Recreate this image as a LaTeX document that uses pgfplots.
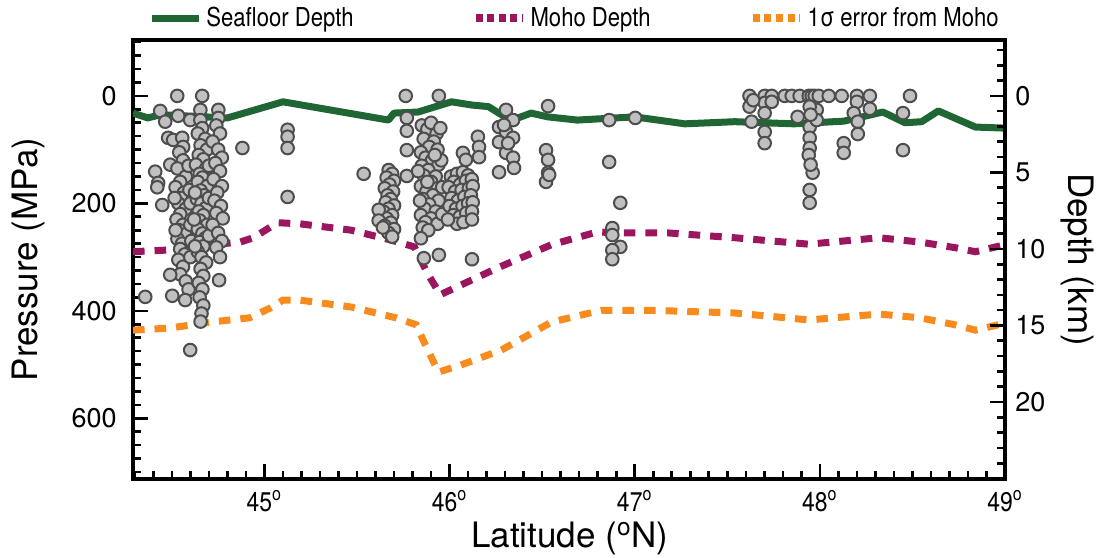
\documentclass[border=0pt]{standalone}
\usepackage{fontspec}
\setmainfont{TeX Gyre Heros}
\newfontfamily\narrow[FakeStretch=0.85]{TeX Gyre Heros}
\usepackage{pgfplots}
\pgfplotsset{compat=1.18}
\definecolor{seagreen}{HTML}{1F6634}
\definecolor{moho}{HTML}{9B165F}
\definecolor{sig}{HTML}{F78B1E}
\definecolor{ptfill}{HTML}{C0C0C0}
\definecolor{ptdraw}{HTML}{4D4D4D}
\pgfplotsset{
  common/.style={
    scale only axis, width=436pt, height=219.5pt,
    xmin=44.29, xmax=49, y dir=reverse,
    axis line style={line width=2pt, black},
    tick align=inside,
    major tick length=7.5pt, minor tick length=4pt,
    every tick/.style={line width=1.3pt, black},
    /pgf/number format/assume math mode=true,
  }
}
\begin{document}
\begin{tikzpicture}
\path[use as bounding box] (-66.5pt,-39.5pt) rectangle (483.5pt,239.5pt);
\begin{axis}[common,
  ymin=-104, ymax=713,
  xtick pos=lower, ytick pos=left,
  xtick={45,46,47,48,49},
  xticklabels={45\textsuperscript{o},46\textsuperscript{o},47\textsuperscript{o},48\textsuperscript{o},49\textsuperscript{o}},
  minor xtick={44.3,44.4,...,48.95},
  ytick={0,200,400,600},
  minor ytick={-100,-75,...,700},
  xticklabel style={font=\narrow\fontsize{13.5}{16}\selectfont, inner sep=0pt, yshift=-5.5pt},
  yticklabel style={font=\fontsize{13.5}{16}\selectfont, inner sep=0pt, xshift=-8pt},
  every axis x label/.style={at={(axis description cs:0.501,-0.136)}, anchor=center},
  every axis y label/.style={at={(axis description cs:-0.1204,0.5)}, anchor=center, rotate=90},
  xlabel={\fontsize{17.5}{20}\selectfont Latitude (\textsuperscript{o}N)},
  ylabel={\fontsize{17.5}{20}\selectfont Pressure (MPa)},
  legend columns=3,
  legend style={at={(axis description cs:0.0172,1.05)}, anchor=west, draw=none, fill=none, inner sep=0pt,
    font=\narrow\fontsize{13}{15}\selectfont,
    /tikz/column 2/.style={column sep=57pt},
    /tikz/column 4/.style={column sep=47pt}},
  legend image code/.code={\draw[#1] (0pt,0pt) -- (23.5pt,0pt);},
]
\addplot[seagreen, line width=3.5pt, line join=round] coordinates {
(44.29,32)(44.37,41)(44.44,35)(44.80,41)(45.10,11)(45.67,45)(45.70,32)(45.83,30)(46.01,11)(46.12,17)(46.21,20)(46.28,35)(46.37,41)(46.44,32)(46.53,39)(46.69,45)(47.00,39)(47.27,52)(47.54,48)(47.86,52)(48.13,47)(48.34,30)(48.46,50)(48.55,48)(48.64,28)(48.84,58)(49.00,60)
};
\addlegendentry{Seafloor Depth}
\addplot[moho, line width=3.5pt, dash pattern=on 5.8pt off 5pt, legend image post style={dash pattern=on 3.5pt off 2.3pt, line width=4pt}] coordinates {
(44.29,290)(44.47,287)(44.71,277)(44.87,272)(44.94,264)(45.07,236)(45.19,238)(45.47,250)(45.68,268)(45.81,281)(45.88,330)(45.95,370)(46.26,320)(46.55,277)(46.80,253)(46.89,255)(47.18,255)(47.54,264)(47.94,276)(48.32,264)(48.54,272)(48.74,283)(48.84,290)(49.00,277)
};
\addlegendentry{Moho Depth}
\addplot[sig, line width=3.5pt, dash pattern=on 5.8pt off 5pt, legend image post style={dash pattern=on 3.5pt off 2.3pt, line width=4pt}] coordinates {
(44.29,436)(44.49,432)(44.71,421)(44.92,413)(45.03,395)(45.10,380)(45.19,380)(45.47,393)(45.71,413)(45.82,426)(45.87,464)(45.94,514)(46.06,501)(46.28,473)(46.55,421)(46.82,399)(47.09,399)(47.54,404)(47.94,417)(48.32,406)(48.54,413)(48.73,426)(48.84,436)(49.00,423)
};
\addlegendentry{1σ error from Moho}
\addplot[only marks, mark=*, mark size=3.15pt, mark options={fill=ptfill, draw=ptdraw, line width=1pt}, forget plot] coordinates {
(44.529,0)(44.664,0)
(44.437,28)(44.464,48)(44.534,37)(44.599,45)(44.654,26)(44.654,45)(44.751,26)(44.751,41)
(44.480,78)(44.507,82)(44.556,78)(44.561,95)(44.491,128)
(44.410,141)(44.426,162)(44.421,170)(44.448,203)
(44.881,97)
(44.540,105)(44.560,120)(44.530,135)(44.575,150)(44.545,160)(44.520,170)(44.565,180)(44.550,190)(44.535,200)(44.575,210)(44.545,220)(44.525,230)(44.560,240)(44.540,250)(44.570,258)(44.530,266)(44.555,275)(44.545,285)(44.570,295)(44.535,305)(44.560,318)(44.545,332)(44.575,345)(44.590,360)(44.600,300)(44.600,240)(44.595,175)(44.590,130)(44.600,200)(44.605,270)(44.515,190)(44.520,250)
(44.664,60)(44.640,70)(44.680,80)(44.655,92)(44.690,100)(44.645,110)(44.670,118)(44.630,128)(44.685,135)(44.650,145)(44.665,152)(44.640,160)(44.690,168)(44.655,176)(44.675,185)(44.635,192)(44.660,200)(44.685,208)(44.645,215)(44.670,222)(44.650,232)(44.690,240)(44.640,248)(44.665,256)(44.680,265)(44.650,272)(44.670,280)(44.640,290)(44.660,300)(44.685,310)(44.655,322)(44.670,335)(44.645,348)(44.665,360)(44.650,375)(44.670,390)(44.660,405)(44.655,420)(44.620,230)(44.625,180)(44.625,280)(44.700,190)(44.700,260)(44.700,130)
(44.740,55)(44.760,70)(44.720,85)(44.750,100)(44.770,115)(44.735,125)(44.760,140)(44.725,155)(44.770,168)(44.745,180)(44.730,195)(44.765,205)(44.740,218)(44.775,228)(44.720,240)(44.750,255)(44.770,270)(44.740,282)(44.755,343)(44.760,300)
(44.356,374)(44.502,372)(44.599,473)(44.572,380)(44.491,333)
(45.125,63)(45.125,76)(45.125,97)(45.125,188)
(45.536,145)
(45.671,138)(45.690,145)(45.660,152)(45.700,158)(45.675,165)(45.650,172)(45.695,178)(45.665,185)(45.682,192)(45.655,198)(45.700,204)(45.670,210)(45.644,216)(45.690,222)(45.660,228)(45.617,212)(45.617,232)(45.682,236)(45.650,242)(45.700,248)(45.670,255)(45.640,245)(45.690,262)
(45.763,0)(45.769,41)(45.769,65)(45.769,101)(45.769,149)
(45.942,0)
(45.850,55)(45.880,62)(45.900,50)(45.930,70)(45.860,80)(45.915,85)(45.890,95)(45.845,105)(45.935,100)(45.870,115)(45.905,120)(45.850,130)(45.940,128)(45.885,138)(45.860,148)(45.925,150)(45.900,160)(45.845,168)(45.935,172)(45.875,178)(45.910,185)(45.855,192)(45.940,195)(45.890,202)(45.865,210)(45.925,215)(45.845,222)(45.900,228)(45.870,235)(45.935,238)(45.855,245)(45.885,250)(45.845,265)(45.861,302)(45.942,296)(45.960,170)(45.955,120)(45.960,220)(45.840,195)(45.880,160)(45.920,110)(45.950,60)(45.830,140)
(46.007,150)(46.040,145)(46.072,142)(46.100,148)(46.023,160)(46.056,165)(46.088,158)(46.120,155)(45.995,170)(46.030,178)(46.065,175)(46.104,172)(46.125,168)(46.010,190)(46.045,195)(46.080,188)(46.115,185)(46.000,205)(46.035,210)(46.070,205)(46.100,200)(46.125,198)(46.020,222)(46.055,225)(46.090,218)(46.121,215)(46.040,238)(46.075,235)(46.121,230)(45.991,230)(46.121,304)(46.072,106)(46.088,119)(46.153,76)(46.159,95)(46.159,114)
(46.305,26)(46.343,45)(46.267,58)(46.305,67)(46.343,78)(46.267,86)(46.305,106)(46.343,115)(46.267,142)(46.348,134)(46.294,54)(46.316,88)
(46.532,19)(46.521,101)(46.532,119)(46.532,143)(46.521,160)(46.538,147)
(46.862,45)(46.862,123)(46.922,199)(46.879,246)(46.879,259)(46.922,281)(46.879,287)(46.879,304)
(47.003,41)
(47.620,0)(47.702,0)(47.740,0)(47.620,20)(47.702,13)(47.631,48)(47.702,32)(47.702,67)(47.702,88)(47.740,11)(47.640,8)
(47.810,0)(47.848,0)(47.891,0)(47.940,0)(47.956,0)(47.972,0)(47.994,0)(48.048,0)
(47.880,39)(47.945,58)(47.945,78)(47.945,97)(47.983,26)(47.983,45)(47.961,143)(47.945,175)(47.945,199)(47.945,20)(47.950,35)(47.940,110)(47.950,128)
(48.118,0)(48.129,88)(48.129,106)
(48.200,0)(48.200,11)(48.270,0)(48.270,24)(48.183,32)(48.205,48)(48.205,71)
(48.487,0)(48.449,32)(48.449,101)
};
\end{axis}
\begin{axis}[common,
  ymin=-3.65, ymax=25.03,
  axis x line=none, axis y line*=right,
  ytick={0,5,10,15,20},
  minor ytick={-3,-2,...,24},
  yticklabel style={font=\fontsize{13.5}{16}\selectfont, inner sep=0pt, xshift=5pt},
  every axis y label/.style={at={(axis description cs:1.0826,0.5)}, anchor=center, rotate=-90},
  ylabel={\fontsize{17.5}{20}\selectfont Depth (km)},
]
\end{axis}
\end{tikzpicture}
\end{document}
